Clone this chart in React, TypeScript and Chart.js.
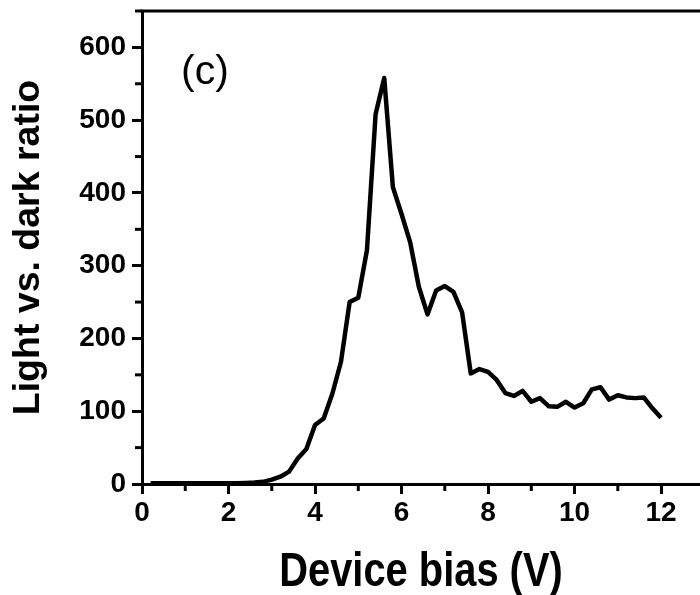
import { useEffect, useRef } from "react";
import { Chart, registerables } from "chart.js";

Chart.register(...registerables);

const biasV = [
  0.2, 0.4, 0.6, 0.8, 1.0, 1.2, 1.4, 1.6, 1.8, 2.0,
  2.2, 2.4, 2.6, 2.8, 3.0, 3.2, 3.4, 3.6, 3.8, 4.0,
  4.2, 4.4, 4.6, 4.8, 5.0, 5.2, 5.4, 5.6, 5.8, 6.0,
  6.2, 6.4, 6.6, 6.8, 7.0, 7.2, 7.4, 7.6, 7.8, 8.0,
  8.2, 8.4, 8.6, 8.8, 9.0, 9.2, 9.4, 9.6, 9.8, 10.0,
  10.2, 10.4, 10.6, 10.8, 11.0, 11.2, 11.4, 11.6, 11.8, 12.0,
];

const lightDarkRatio = [
  1, 1, 1, 1, 1, 1, 1, 1, 1, 1,
  1, 1.5, 2, 3, 6, 10, 17, 35, 48, 81,
  90, 124, 168, 250, 256, 321, 508, 558, 408, 371,
  332, 271, 233, 266, 272, 264, 236, 152, 158, 154,
  143, 125, 121, 128, 113, 118, 107, 106, 113, 105,
  111, 130, 133, 116, 122, 119, 118, 119, 104, 91,
];

const xMajorTicks = [0, 2, 4, 6, 8, 10, 12];
const xMinorTicks = [1, 3, 5, 7, 9, 11];
const yMajorTicks = [0, 100, 200, 300, 400, 500, 600];
const yMinorTicks = [50, 150, 250, 350, 450, 550, 650];

const xTitle = "Device bias (V)";
const yTitle = "Light vs. dark ratio";
const panelLabel = "(c)";

const framePlugin = {
  id: "frame",
  afterDraw(chart: any) {
    const { ctx, chartArea, scales } = chart;
    ctx.save();
    ctx.strokeStyle = "#000";
    ctx.lineWidth = 3;
    ctx.lineCap = "butt";
    ctx.beginPath();
    ctx.moveTo(chartArea.left - 1.5, chartArea.top);
    ctx.lineTo(chartArea.right, chartArea.top);
    ctx.stroke();
    xMinorTicks.forEach((v) => {
      const px = scales.x.getPixelForValue(v);
      ctx.beginPath();
      ctx.moveTo(px, chartArea.bottom);
      ctx.lineTo(px, chartArea.bottom + 7);
      ctx.stroke();
    });
    yMinorTicks.forEach((v) => {
      const py = scales.y.getPixelForValue(v);
      ctx.beginPath();
      ctx.moveTo(chartArea.left, py);
      ctx.lineTo(chartArea.left - 7, py);
      ctx.stroke();
    });
    ctx.fillStyle = "#000";
    ctx.font = "41px 'Liberation Sans', Arial, sans-serif";
    ctx.textAlign = "left";
    ctx.textBaseline = "alphabetic";
    ctx.fillText(panelLabel, chartArea.left + 39, chartArea.top + 73);

    // x-axis title, horizontally condensed like the original
    const cx = (chartArea.left + chartArea.right) / 2;
    ctx.translate(cx, 586);
    ctx.scale(0.83, 1);
    ctx.font = "bold 48px 'Liberation Sans', Arial, sans-serif";
    ctx.textAlign = "center";
    ctx.fillText(xTitle, 0, 0);
    ctx.restore();
  },
};

export default function App() {
  const canvasRef = useRef<HTMLCanvasElement | null>(null);

  useEffect(() => {
    const canvas = canvasRef.current;
    if (!canvas) return;
    const chart = new Chart(canvas, {
      type: "line",
      data: {
        datasets: [
          {
            data: biasV.map((x, i) => ({ x, y: lightDarkRatio[i] })),
            borderColor: "#000",
            borderWidth: 4.5,
            pointRadius: 0,
            tension: 0,
            borderJoinStyle: "round",
            fill: false,
          },
        ],
      },
      options: {
        responsive: false,
        animation: false,
        devicePixelRatio: 1,
        layout: { padding: { top: 11, right: 0, left: 0, bottom: 0 } },
        plugins: {
          legend: { display: false },
          tooltip: { enabled: false },
        },
        scales: {
          x: {
            type: "linear",
            min: 0,
            max: 12.9,
            afterBuildTicks: (scale: any) => {
              scale.ticks = xMajorTicks.map((value) => ({ value }));
            },
            afterFit: (scale: any) => {
              scale.height = 111;
              scale.paddingLeft = 0;
              scale.paddingRight = 0;
            },
            border: { display: true, color: "#000", width: 3 },
            grid: {
              drawOnChartArea: false,
              drawTicks: true,
              tickLength: 10,
              tickWidth: 3,
              tickColor: "#000",
            },
            ticks: {
              color: "#000",
              padding: 2,
              maxRotation: 0,
              autoSkip: false,
              font: {
                family: "'Liberation Sans', Arial, sans-serif",
                weight: "bold",
                size: 28,
              },
            },
            title: { display: false, text: xTitle },
          },
          y: {
            type: "linear",
            min: 0,
            max: 650,
            afterBuildTicks: (scale: any) => {
              scale.ticks = yMajorTicks.map((value) => ({ value }));
            },
            afterFit: (scale: any) => {
              scale.width = 142;
              scale.paddingTop = 0;
              scale.paddingBottom = 0;
            },
            border: { display: true, color: "#000", width: 3 },
            grid: {
              drawOnChartArea: false,
              drawTicks: true,
              tickLength: 10,
              tickWidth: 3,
              tickColor: "#000",
            },
            ticks: {
              color: "#000",
              padding: 6,
              autoSkip: false,
              font: {
                family: "'Liberation Sans', Arial, sans-serif",
                weight: "bold",
                size: 28,
              },
            },
            title: {
              display: true,
              text: yTitle,
              color: "#000",
              padding: { top: 10, bottom: 0 },
              font: {
                family: "'Liberation Sans', Arial, sans-serif",
                weight: "bold",
                size: 37.5,
                lineHeight: 1,
              },
            },
          },
        },
      },
      plugins: [framePlugin],
    } as any);
    return () => chart.destroy();
  }, []);

  return (
    <div style={{ position: "absolute", left: 0, top: 0, width: 700, height: 595, background: "#fff" }}>
      <canvas ref={canvasRef} width={700} height={595} style={{ display: "block", width: 700, height: 595 }} />
    </div>
  );
}
